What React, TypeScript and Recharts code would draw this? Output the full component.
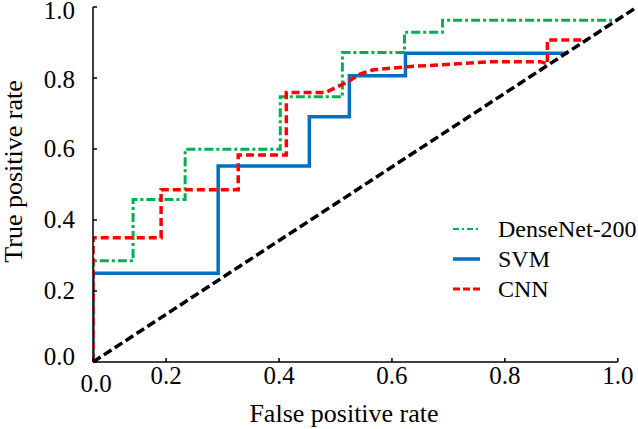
import React from 'react';
import { LineChart, Line, XAxis, YAxis, ReferenceLine, Label } from 'recharts';

// x-axis positions of ticks (linear axis; first tick sits at the y-axis and is labelled 0.0)
const xTickValues = [0.0705, 0.2, 0.4, 0.6, 0.8, 1.0];
const xTickLabels = ['0.0', '0.2', '0.4', '0.6', '0.8', '1.0'];
const yTickValues = [0, 0.2, 0.4, 0.6, 0.8, 1.0];
const yTickLabels = ['0.0', '0.2', '0.4', '0.6', '0.8', '1.0'];

const seriesNames = ['DenseNet-200', 'SVM', 'CNN'];

const denseFpr = [0.0705, 0.0705, 0.1415, 0.1415, 0.2337, 0.2337, 0.4022, 0.4022, 0.5122, 0.5122, 0.6222, 0.6222, 0.6896, 0.6896, 1.0];
const denseTpr = [0, 0.285, 0.285, 0.458, 0.458, 0.599, 0.599, 0.747, 0.747, 0.872, 0.872, 0.929, 0.929, 0.963, 0.963];

const svmFpr = [0.0705, 0.0705, 0.2922, 0.2922, 0.4537, 0.4537, 0.5246, 0.5246, 0.6239, 0.6239, 0.9113];
const svmTpr = [0, 0.25, 0.25, 0.552, 0.552, 0.691, 0.691, 0.806, 0.806, 0.87, 0.87];

const cnnFpr = [0.0705, 0.0705, 0.1911, 0.1911, 0.3277, 0.3277, 0.4129, 0.4129, 0.482, 0.5228, 0.5441, 0.5672, 0.6275, 0.686, 0.7747, 0.8634, 0.8753, 0.8753, 0.9468];
const cnnTpr = [0, 0.35, 0.35, 0.485, 0.485, 0.583, 0.583, 0.759, 0.759, 0.79, 0.812, 0.823, 0.832, 0.837, 0.846, 0.846, 0.839, 0.907, 0.907];

const chanceFpr = [0.0705, 1.034];
const chanceTpr = [0, 1.0];

const colors = { dense: '#00B050', svm: '#0070C0', cnn: '#FF0000', chance: '#000000' };
const FONT = '"Liberation Serif", "Times New Roman", serif';

const toPoints = (xs: number[], ys: number[]) => xs.map((x, i) => ({ x, y: ys[i] }));

const denseData = toPoints(denseFpr, denseTpr);
const svmData = toPoints(svmFpr, svmTpr);
const cnnData = toPoints(cnnFpr, cnnTpr);
const chanceData = toPoints(chanceFpr, chanceTpr);

// small vertical nudges of the y tick labels, as placed in the reference
const yLabelNudge = [-5, 0, 0, 0, 2, 4];

const XTick = (props: any) => {
  const { x, y, payload } = props;
  const i = xTickValues.indexOf(payload.value);
  const label = i >= 0 ? xTickLabels[i] : String(payload.value);
  const extra = i === 0 ? 8 : 0;
  return (
    <text x={x + (i === 0 ? 3 : 0)} y={y + 22 + extra} textAnchor="middle" fontFamily={FONT} fontSize={25} fill="#000">
      {label}
    </text>
  );
};

const YTick = (props: any) => {
  const { x, y, payload } = props;
  const i = yTickValues.indexOf(payload.value);
  const label = i >= 0 ? yTickLabels[i] : String(payload.value);
  const nudge = i >= 0 ? yLabelNudge[i] : 0;
  return (
    <text x={x - 18} y={y + 8 + nudge} textAnchor="end" fontFamily={FONT} fontSize={25} fill="#000">
      {label}
    </text>
  );
};

const YTitle = (props: any) => {
  const vb = props.viewBox || { x: 0, y: 7, width: 93, height: 355 };
  const cx = vb.x + 22;
  const cy = vb.y + vb.height / 2 - 13;
  return (
    <text x={cx} y={cy} transform={`rotate(-90 ${cx} ${cy})`} textAnchor="middle" fontFamily={FONT} fontSize={26} fill="#000">
      True positive rate
    </text>
  );
};

const XTitle = (props: any) => {
  const vb = props.viewBox || { x: 93, y: 362, width: 544, height: 67 };
  return (
    <text x={vb.x + 251} y={vb.y + 60} textAnchor="middle" fontFamily={FONT} fontSize={26} fill="#000">
      False positive rate
    </text>
  );
};

const legendStyles = [
  { color: colors.dense, width: 2, dash: '6 3 2 3' },
  { color: colors.svm, width: 3.5, dash: undefined },
  { color: colors.cnn, width: 3, dash: '7 3' },
];

const LegendBox = () => (
  <svg width={188} height={100} style={{ position: 'absolute', left: 450, top: 210 }}>
    {seriesNames.map((name, i) => {
      const cy = 19 + i * 30;
      const s = legendStyles[i];
      return (
        <g key={name}>
          <line x1={3} x2={30} y1={cy} y2={cy} stroke={s.color} strokeWidth={s.width} strokeDasharray={s.dash} />
          <text x={48} y={cy + 8} fontFamily={FONT} fontSize={24} fill="#000">{name}</text>
        </g>
      );
    })}
  </svg>
);

export default function App() {
  return (
    <div style={{ position: 'relative', width: 638, height: 429, background: '#fff' }}>
      <style>{'body{margin:0}'}</style>
      <LineChart width={638} height={429} margin={{ top: 7, right: 1, bottom: 0, left: 0 }}>
        <XAxis
          type="number"
          dataKey="x"
          domain={[0.0705, 1.034]}
          allowDataOverflow
          ticks={xTickValues}
          tick={<XTick />}
          tickSize={-4}
          tickMargin={4}
          tickLine={{ stroke: '#000', strokeWidth: 1.5 }}
          axisLine={false}
          height={67}
          interval={0}
        >
          <Label content={<XTitle />} />
        </XAxis>
        <YAxis
          type="number"
          dataKey="y"
          domain={[0, 1]}
          ticks={yTickValues}
          tick={<YTick />}
          tickSize={-4}
          tickMargin={4}
          tickLine={{ stroke: '#000', strokeWidth: 1.5 }}
          axisLine={{ stroke: '#000', strokeWidth: 1.5 }}
          width={93}
          interval={0}
        >
          <Label content={<YTitle />} />
        </YAxis>
        <ReferenceLine
          segment={[{ x: 0.0705, y: 0 }, { x: 1.0, y: 0 }]}
          stroke="#000"
          strokeWidth={1.5}
          ifOverflow="visible"
        />
        <Line data={denseData} dataKey="y" type="linear" stroke={colors.dense} strokeWidth={3} strokeDasharray="9 3 3 3" dot={false} isAnimationActive={false} />
        <Line data={svmData} dataKey="y" type="linear" stroke={colors.svm} strokeWidth={3.5} dot={false} isAnimationActive={false} />
        <Line data={cnnData} dataKey="y" type="linear" stroke={colors.cnn} strokeWidth={3.5} strokeDasharray="8 4" dot={false} isAnimationActive={false} />
        <Line data={chanceData} dataKey="y" type="linear" stroke={colors.chance} strokeWidth={3.5} strokeDasharray="9 4" dot={false} isAnimationActive={false} />
      </LineChart>
      <LegendBox />
    </div>
  );
}
